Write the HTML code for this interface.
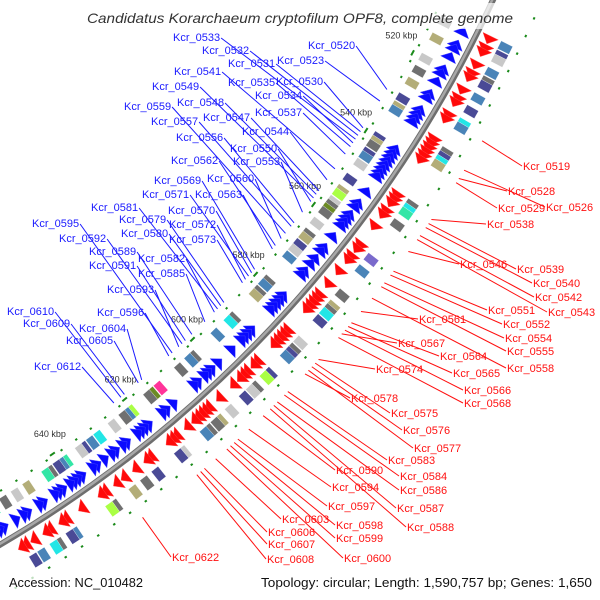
<!DOCTYPE html>
<html><head><meta charset="utf-8"><style>
html,body{margin:0;padding:0;background:#fff;width:600px;height:600px;overflow:hidden;}
svg{display:block;font-family:"Liberation Sans",sans-serif;overflow:hidden;}
</style></head><body>
<svg id="map" width="600" height="600" viewBox="0 0 600 600">
<g id="feat"></g>
<g id="ring"></g>
<g id="ticks"></g>
<g id="lines"></g>
<g id="labels"></g>
<rect x="80" y="3" width="445" height="26" fill="#fff" opacity="0.72"/>
<text x="300" y="23" text-anchor="middle" font-size="14" font-style="italic" fill="#333" textLength="426" lengthAdjust="spacingAndGlyphs">Candidatus Korarchaeum cryptofilum OPF8, complete genome</text>
<rect x="0" y="570" width="600" height="30" fill="#fff" opacity="0.72"/>
<text x="9" y="587" font-size="12.5" fill="#111" textLength="134" lengthAdjust="spacingAndGlyphs">Accession: NC_010482</text>
<text x="261" y="587" font-size="12.5" fill="#111" textLength="331" lengthAdjust="spacingAndGlyphs">Topology: circular; Length: 1,590,757 bp; Genes: 1,650</text>
</svg>
<script>
// ---- data ----
const geneStart = 500;
const geneKbp = [512,513,514,515,516,517,518,519,520,521,522,523,524,525,526,527,528,529,530,531,
532,533,534,535,536,537,538,539,540,541,542,543,544,545,546,547,548,549,550,551,
552,553,554,555,556,557,558,559,560,561,562,563,564,565,566,567,568,569,570,571,
572.5,573.5,574.5,575.5,576.5,577.5,578.5,579.5,580.5,581.5,582.5,583.5,584.5,585.5,586.5,587.5,588.5,589.5,590.5,591.5,
592.5,593.5,594.5,595.5,596.5,597.5,598.5,599.5,600.5,601.5,602.5,603.5,604.5,605.5,606.5,607.5,608.5,609.5,610.5,611.5,
612.5,613.5,614.5,615.5,616.5,617.5,618.5,619.5,620.5,621.5,622.5,623.5,624.5,625.5,626.5,627.5,628.5,629.5,630.5,631.5,
632.5,633.5,634.5,635.5,636.5,637.5,638.5,639.5,640.5,641.5,642.5,643.5,644.5,645.5,646.5,647.5,648.5,649.5,650.5,651.5,
652.5,653.5,654.5,655.5,656.5,657.5,658.5,659.5,660.5,661.5,662.5,663.5,664.5,665.5,666.5,667.5,668.5,669.5,670.5,671.5,672.5];
const geneStrand = ("RBRRBBRBRR"+"BBRBRRBBRR"+"BBBBRRRRRR"+"BBBBBBBBRR"+"RBRRBBRBBB"+"BRRBRRBBRB"+"BRBBRRRRRB"+"BBBBRRRRRB"+
"BBBRRBRRRB"+"RBBBRBBRRR"+"RRBRBBRRRB"+"BBBRRBBRBB"+"RBRBBRRBBB"+"BRBBBRRBBR"+"RBBRBRRBBB"+"BRRBBRBRRB"+"R").split('');
const geneCog = ("sgnl.ks.gn"+"l.sg.nk.cs"+"n.ks.gnck."+"nkg.ns.lgc"+"tn.gky.lgo"+"g.pl.sgk.n"+"lgs.kgc.ng"+"s.gkl.gns."+
"gc.nys.gl."+"n.gsl.gkg."+"gsm.og.ln."+"ysg.nl.g.c"+"ks.nlgy.ts"+"n.gt.sn.kg"+"cl.sgn.tk."+"gs.nc.lt.g"+".").split('');
const scaleTicks = [520,540,560,580,600,620,640];
const scaleTickLabels = ["520 kbp","540 kbp","560 kbp","580 kbp","600 kbp","620 kbp","640 kbp"];
const blueNames = ["Kcr_0533","Kcr_0532","Kcr_0531","Kcr_0520","Kcr_0523","Kcr_0541","Kcr_0535","Kcr_0530","Kcr_0549","Kcr_0534","Kcr_0559","Kcr_0548","Kcr_0537","Kcr_0547","Kcr_0557","Kcr_0544","Kcr_0556","Kcr_0550","Kcr_0562","Kcr_0553","Kcr_0569","Kcr_0560","Kcr_0571","Kcr_0563","Kcr_0570","Kcr_0581","Kcr_0579","Kcr_0572","Kcr_0595","Kcr_0580","Kcr_0573","Kcr_0592","Kcr_0589","Kcr_0582","Kcr_0591","Kcr_0585","Kcr_0593","Kcr_0596","Kcr_0610","Kcr_0609","Kcr_0604","Kcr_0605","Kcr_0612"];
const blueX = [173,202,228,308,277,174,228,276,152,255,124,177,255,203,151,242,176,230,171,233,154,207,142,195,168,91,119,169,32,121,169,59,89,138,89,138,107,97,7,23,79,66,34];
const blueY = [37,50,63,45,60,71,82,81,86,95,106,102,112,117,121,131,137,148,160,161,180,178,194,194,210,207,219,224,223,233,239,238,251,258,265,273,289,312,311,323,328,340,366];
const redNames = ["Kcr_0519","Kcr_0528","Kcr_0529","Kcr_0526","Kcr_0538","Kcr_0546","Kcr_0539","Kcr_0540","Kcr_0542","Kcr_0543","Kcr_0551","Kcr_0552","Kcr_0561","Kcr_0554","Kcr_0555","Kcr_0567","Kcr_0564","Kcr_0558","Kcr_0574","Kcr_0565","Kcr_0566","Kcr_0568","Kcr_0578","Kcr_0575","Kcr_0576","Kcr_0577","Kcr_0583","Kcr_0590","Kcr_0584","Kcr_0586","Kcr_0594","Kcr_0597","Kcr_0587","Kcr_0603","Kcr_0598","Kcr_0588","Kcr_0606","Kcr_0599","Kcr_0607","Kcr_0600","Kcr_0608","Kcr_0622"];
const redX = [523,508,498,546,487,460,517,533,535,548,488,503,419,505,507,398,440,507,376,453,464,464,351,391,403,414,388,336,400,400,332,328,397,282,336,407,268,336,268,344,267,172];
const redY = [166,191,208,207,224,264,269,283,297,312,310,324,319,338,351,343,356,368,369,373,390,403,398,413,430,448,460,470,476,490,487,506,508,519,525,527,532,538,544,558,559,557];

// ---- geometry ----
const NS='http://www.w3.org/2000/svg';
const CX=-627, CY=-518, R=1234;
const VIS_MIN=503, VIS_MAX=663;
function ang(k){return (28.3+(k-520)*0.219)*Math.PI/180;}
function P(k,r){const a=ang(k);return [CX+r*Math.cos(a),CY+r*Math.sin(a)];}
function pts(a){return a.map(p=>p[0].toFixed(1)+','+p[1].toFixed(1)).join(' ');}
function mk(tag,parent){const e=document.createElementNS(NS,tag);parent.appendChild(e);return e;}
function kbpOf(name){return geneKbp[parseInt(name.slice(4),10)-geneStart];}
function vis(k){return k>=VIS_MIN && k<=VIS_MAX;}
const palette={n:"#4a4a96",k:"#b3ad78",g:"#707070",l:"#c8c8c8",s:"#4a84b8",c:"#22e6e6",m:"#ff3399",o:"#6b8a24",y:"#aaff44",t:"#33e6a6",p:"#7a6acc"};

const feat=document.getElementById('feat');
geneKbp.forEach((k,i)=>{
  const c=geneCog[i]; if(!c||c==='.'||!vis(k))return;
  const blue=geneStrand[i]==='B';
  const r1=blue?1194:1259, r2=blue?1207:1272;
  const pg=mk('polygon',feat);
  pg.setAttribute('points',pts([P(k-0.9,r1),P(k+0.9,r1),P(k+0.9,r2),P(k-0.9,r2)]));
  pg.setAttribute('fill',palette[c]);
  pg.setAttribute('stroke','#fff');
  pg.setAttribute('stroke-width','0.4');
  
  
});
geneKbp.forEach((k,i)=>{
  if(!vis(k))return;
  const blue=geneStrand[i]==='B';
  const r1=blue?1212:1239, r2=blue?1229:1256, rm=(r1+r2)/2;
  const a = blue ? [P(k+0.8,r1),P(k+0.8,r2),P(k-1.0,rm)] : [P(k-0.8,r1),P(k-0.8,r2),P(k+1.0,rm)];
  const pg=mk('polygon',feat);
  pg.setAttribute('points',pts(a));
  pg.setAttribute('fill',blue?'#0a0aff':'#ff0a0a');
  pg.setAttribute('stroke',blue?'#5050ff':'#ff5050');
  pg.setAttribute('stroke-width','0.4');
  
  
});

const ring=document.getElementById('ring');
[[6,'#6e6e6e',R],[2.5,'#a8a8a8',R-0.8]].forEach(s=>{
  const a=P(VIS_MIN,s[2]), b=P(VIS_MAX,s[2]);
  const p=mk('path',ring);
  p.setAttribute('d','M'+a[0].toFixed(1)+','+a[1].toFixed(1)+' A'+s[2]+','+s[2]+' 0 0 1 '+b[0].toFixed(1)+','+b[1].toFixed(1));
  p.setAttribute('fill','none');p.setAttribute('stroke',s[1]);p.setAttribute('stroke-width',s[0]);
  
  
});

const ticks=document.getElementById('ticks');
for(let k=504;k<=664;k+=4){
  [1188,1279].forEach(r=>{
    const a=P(k-0.25,r),b=P(k+0.25,r);
    if(a[0]<0||a[1]<0||a[0]>600||a[1]>600)return;
    const l=mk('line',ticks);
    l.setAttribute('x1',a[0]);l.setAttribute('y1',a[1]);l.setAttribute('x2',b[0]);l.setAttribute('y2',b[1]);
    l.setAttribute('stroke','#1a8a1a');l.setAttribute('stroke-width','2');
    
    
  });
}
scaleTicks.forEach((k,i)=>{
  const a=P(k+1.5,1186),b=P(k+2.8,1186);
  const l=mk('line',ticks);
  l.setAttribute('x1',a[0]);l.setAttribute('y1',a[1]);l.setAttribute('x2',b[0]);l.setAttribute('y2',b[1]);
  l.setAttribute('stroke','#1a8a1a');l.setAttribute('stroke-width','2');
  
  
  const p=P(k,1168);
  const t=mk('text',ticks);
  t.setAttribute('x',p[0]);t.setAttribute('y',p[1]+3);
  t.setAttribute('text-anchor','middle');t.setAttribute('font-size','9');t.setAttribute('fill','#333');
  
  
  t.textContent=scaleTickLabels[i];
});

const lines=document.getElementById('lines'), labels=document.getElementById('labels');
blueNames.forEach((n,i)=>{
  const t=mk('text',labels);
  t.setAttribute('x',blueX[i]);t.setAttribute('y',blueY[i]+4);
  t.setAttribute('font-size','11');t.setAttribute('fill','#1a1aff');
  
  
  t.textContent=n;
  const w=t.getComputedTextLength()||47;
  const e=P(kbpOf(n),1182);
  const l=mk('line',lines);
  l.setAttribute('x1',blueX[i]+w+1);l.setAttribute('y1',blueY[i]+1);
  l.setAttribute('x2',e[0]);l.setAttribute('y2',e[1]);
  l.setAttribute('stroke','#1a1aff');l.setAttribute('stroke-width','1');
  
  
});
redNames.forEach((n,i)=>{
  const t=mk('text',labels);
  t.setAttribute('x',redX[i]);t.setAttribute('y',redY[i]+4);
  t.setAttribute('font-size','11');t.setAttribute('fill','#ff1010');
  
  
  t.textContent=n;
  const s=P(kbpOf(n),1290);
  const l=mk('line',lines);
  l.setAttribute('x1',s[0]);l.setAttribute('y1',s[1]);
  l.setAttribute('x2',redX[i]-1);l.setAttribute('y2',redY[i]);
  l.setAttribute('stroke','#ff1010');l.setAttribute('stroke-width','1');
  
  
});
</script>
</body></html>
